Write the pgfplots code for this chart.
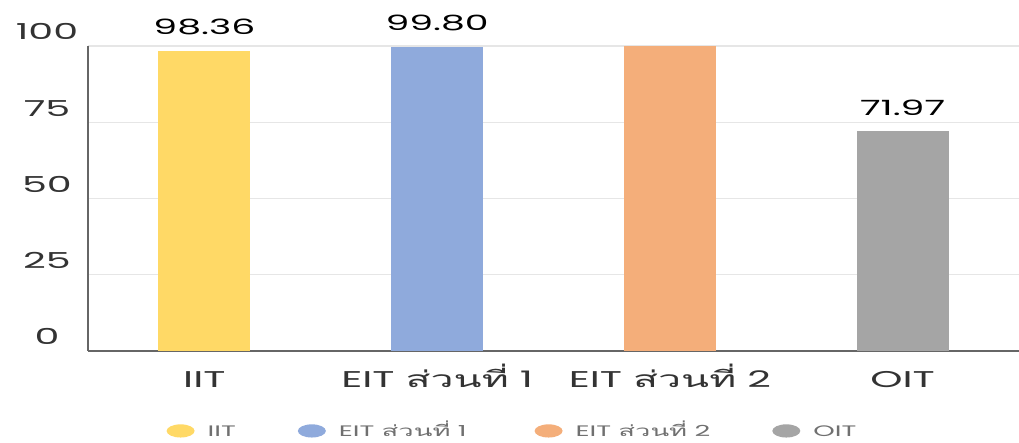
\documentclass[border=0pt]{standalone}
\usepackage{pgfplots}
\pgfplotsset{compat=1.18}
\usepackage{fontspec}
\setmainfont[FakeStretch=1.8]{Poppins}
\newfontfamily\thai[Script=Thai,FakeStretch=1.8]{Loma}
\definecolor{cyellow}{HTML}{FFD966}
\definecolor{cblue}{HTML}{8FAADC}
\definecolor{corange}{HTML}{F4AE7A}
\definecolor{cgray}{HTML}{A5A5A5}
\definecolor{gridgray}{HTML}{E6E6E6}
\definecolor{axisgray}{HTML}{666666}
\definecolor{labelgray}{HTML}{333333}
\definecolor{legendgray}{HTML}{707070}
\begin{document}
\begin{tikzpicture}
\path[use as bounding box] (-44pt,-46pt) rectangle (465.5pt,175.5pt);
\begin{axis}[
  at={(0,0)}, anchor=south west,
  scale only axis, width=465.5pt, height=152.5pt,
  xmin=-0.5, xmax=3.5, ymin=0, ymax=100,
  axis x line=bottom, axis y line=left,
  axis line style={-, draw=axisgray, line width=0.8pt},
  ytick={0,25,50,75,100},
  xtick={0,1,2,3},
  xticklabels={IIT, {EIT {\thai ส่วนที่} 1}, {EIT {\thai ส่วนที่} 2}, OIT},
  major tick length=0pt,
  ymajorgrids, grid style={draw=gridgray, line width=0.6pt},
  /pgf/number format/assume math mode=true,
  yticklabel style={anchor=base, xshift=-20.5pt, yshift=3pt, font=\fontsize{11}{12}\selectfont, text=labelgray},
  xticklabel style={anchor=base, yshift=-18.5pt, font=\fontsize{11.4}{13}\selectfont, text=labelgray},
  ybar, bar width=46pt, bar shift=0pt,
  every node near coord/.append style={anchor=base, yshift=8pt, font=\fontsize{10.5}{12}\selectfont, text=black,
    /pgf/number format/.cd, fixed, precision=2, fixed zerofill, assume math mode=true},
  legend columns=4,
  legend style={at={(0.457,-0.266)}, anchor=center, draw=none, fill=none,
    font=\fontsize{7.6}{8}\selectfont, text=legendgray,
    nodes={text height=5.6pt, text depth=1.2pt},
    /tikz/every odd column/.append style={column sep=4.5pt},
    /tikz/column 2/.style={column sep=29pt},
    /tikz/column 4/.style={column sep=32pt},
    /tikz/column 6/.style={column sep=29pt}},
  legend image code/.code={\fill[#1] (0pt,0.6pt) ellipse (7pt and 3.3pt);},
]
\addplot[fill=cyellow, draw=none, nodes near coords] coordinates {(0,98.36)};
\addlegendentry{IIT}
\addplot[fill=cblue, draw=none, nodes near coords] coordinates {(1,99.80)};
\addlegendentry{EIT {\thai ส่วนที่} 1}
\addplot[fill=corange, draw=none] coordinates {(2,100)};
\addlegendentry{EIT {\thai ส่วนที่} 2}
\addplot[fill=cgray, draw=none, nodes near coords] coordinates {(3,71.97)};
\addlegendentry{OIT}
\end{axis}
\end{tikzpicture}
\end{document}
